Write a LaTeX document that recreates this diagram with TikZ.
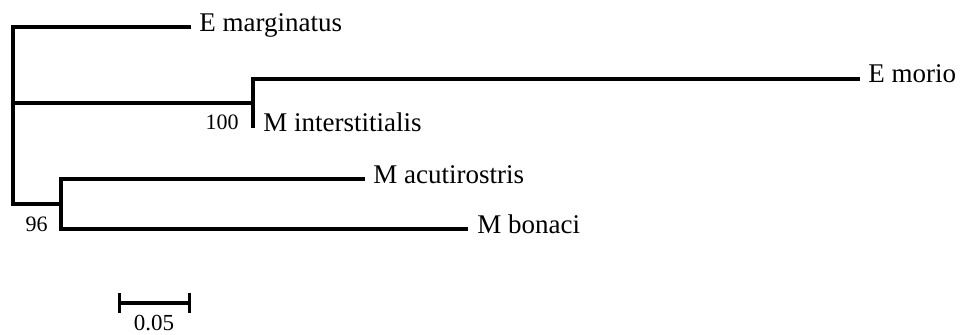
\documentclass[tikz,border=0pt]{standalone}
\usepackage{fontspec}
\setmainfont{Liberation Serif}
\usetikzlibrary{positioning,arrows.meta}
\tikzset{
  rama/.style={line width=1.6pt, black},
  escala/.style={rama, {Bar[width=10pt]}-{Bar[width=10pt]}},
  hoja/.style={anchor=base west, inner sep=0pt, font=\fontsize{13.5}{16}\selectfont},
  soporte/.style={anchor=base east, inner sep=0pt, font=\fontsize{11}{13}\selectfont},
  valorEscala/.style={anchor=base, inner sep=0pt, font=\fontsize{11.5}{13}\selectfont},
}

\begin{document}
\begin{tikzpicture}[x=0.5pt, y=-0.5pt]
    \useasboundingbox (0,0) rectangle (961,335);
    \coordinate (raiz)   at (13,204);
    \coordinate (nA)     at (253,103);
    \coordinate (nB)     at (61,204);
    \coordinate (tMarg)  at (191,27);
    \coordinate (tMorio) at (860,79);
    \coordinate (tInter) at (253,128);
    \coordinate (tAcu)   at (365,179);
    \coordinate (tBon)   at (468,229);
    \coordinate (eIzq)   at (118,303);
    \coordinate (eDer)   at (191,303);
    \node[hoja] (marg)  at (199,32)  {E marginatus};
    \node[hoja] (morio) at (868,83)  {E morio};
    \node[hoja] (inter) at (263,132) {M interstitialis};
    \node[hoja] (acu)   at (373,184) {M acutirostris};
    \node[hoja] (bon)   at (477,234) {M bonaci};
    \node[soporte] (sA) at (239,130) {100};
    \node[soporte] (sB) at (48,232)  {96};
    \node[valorEscala] (vEsc) at (154,330) {0.05};
    \draw[rama] (tMarg) -| (raiz) -- (nB);
    \draw[rama] (raiz |- nA) -- (nA);
    \draw[rama] (tMorio) -| (tInter);
    \draw[rama] (tAcu) -| (nB) |- (tBon);
    \draw[escala] (eIzq) -- (eDer);
  \end{tikzpicture}
\end{document}
